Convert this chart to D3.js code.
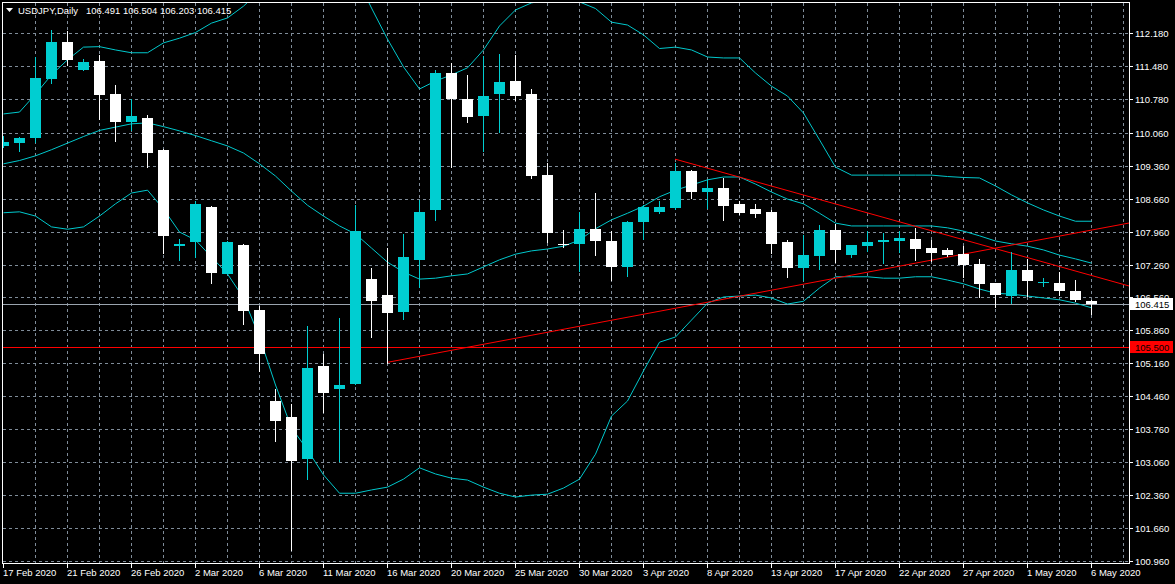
<!DOCTYPE html>
<html>
<head>
<meta charset="utf-8">
<script src="https://cdn.jsdelivr.net/npm/d3@7"></script>
<style>
html,body{margin:0;padding:0;background:#000;}
svg{display:block;}
text{font-family:"Liberation Sans",Arial,sans-serif;}
</style>
</head>
<body>
<svg id="chart" width="1175" height="584"></svg>
<script>
// ---------- DATA ----------
const symbol = "USDJPY,Daily";
const headerValues = "106.491 106.504 106.203 106.415";

const dates = ["2020-02-17","2020-02-18","2020-02-19","2020-02-20","2020-02-21","2020-02-23","2020-02-24","2020-02-25","2020-02-26","2020-02-27","2020-02-28",
"2020-03-01","2020-03-02","2020-03-03","2020-03-04","2020-03-05","2020-03-06","2020-03-08","2020-03-09","2020-03-10","2020-03-11","2020-03-12","2020-03-13",
"2020-03-15","2020-03-16","2020-03-17","2020-03-18","2020-03-19","2020-03-20","2020-03-22","2020-03-23","2020-03-24","2020-03-25","2020-03-26","2020-03-27",
"2020-03-29","2020-03-30","2020-03-31","2020-04-01","2020-04-02","2020-04-03","2020-04-05","2020-04-06","2020-04-07","2020-04-08","2020-04-09","2020-04-10",
"2020-04-12","2020-04-13","2020-04-14","2020-04-15","2020-04-16","2020-04-17","2020-04-19","2020-04-20","2020-04-21","2020-04-22","2020-04-23","2020-04-24",
"2020-04-26","2020-04-27","2020-04-28","2020-04-29","2020-04-30","2020-05-01","2020-05-03","2020-05-04","2020-05-05","2020-05-06"];

const openP  = [109.785,109.849,109.955,111.209,111.989,111.400,111.585,110.884,110.295,110.374,109.694,107.660,107.745,108.489,107.065,107.675,106.294,104.354,104.026,103.134,105.104,104.621,104.728,106.952,106.612,106.258,107.356,108.425,111.330,110.777,110.416,110.884,111.160,110.884,109.162,107.703,107.703,108.015,107.760,107.207,108.164,108.376,108.461,109.247,108.801,108.886,108.546,108.440,108.376,107.739,107.186,107.441,107.994,107.462,107.654,107.739,107.760,107.802,107.611,107.569,107.484,107.271,106.868,106.591,107.144,106.885,106.868,106.698,106.491];
const highP  = [109.991,109.976,111.676,112.244,112.223,111.628,111.713,111.075,110.777,110.437,109.715,107.796,108.610,108.510,107.760,107.703,106.379,104.615,104.296,105.954,105.359,106.130,108.525,107.180,107.605,107.909,108.631,111.394,111.536,111.288,111.691,111.734,111.713,110.990,109.411,107.994,108.370,108.774,107.972,108.185,108.525,108.610,109.411,109.269,109.056,109.099,108.610,108.546,108.419,107.781,107.887,108.100,108.121,107.680,107.972,107.930,107.972,108.036,107.781,107.611,107.654,107.378,106.875,107.526,107.378,106.974,107.101,106.931,106.504];
const lowP   = [109.768,109.679,109.870,111.124,111.494,111.395,110.346,109.891,110.119,109.339,107.511,107.356,107.420,106.861,107.060,105.990,105.004,103.516,101.187,102.709,104.120,103.085,104.720,105.726,105.161,106.096,106.776,108.213,109.339,110.295,109.672,110.083,110.756,109.105,107.732,107.626,107.122,107.462,106.931,107.016,107.809,108.361,108.440,108.674,108.455,108.206,108.334,108.270,107.505,106.995,106.931,107.165,107.314,107.426,107.548,107.293,107.526,107.356,107.335,107.441,106.995,106.570,106.357,106.442,106.591,106.804,106.612,106.485,106.203];
const closeP = [109.870,109.955,111.224,111.989,111.606,111.564,110.869,110.295,110.416,109.636,107.873,107.696,108.546,107.086,107.739,106.279,105.365,103.941,103.085,105.068,104.536,104.700,107.972,106.491,106.236,107.420,108.376,111.330,110.784,110.401,110.841,111.139,110.841,109.148,107.936,107.690,108.015,107.766,107.207,108.164,108.482,108.482,109.247,108.801,108.886,108.510,108.355,108.334,107.703,107.186,107.462,107.994,107.569,107.675,107.739,107.781,107.824,107.590,107.505,107.462,107.250,106.846,106.612,107.144,106.910,106.893,106.698,106.506,106.415];

// Bollinger bands (20)
const bbUpper = [110.46,110.50,110.88,111.29,111.61,111.88,111.89,111.82,111.76,111.76,111.97,112.07,112.19,112.39,112.50,112.75,113.07,113.58,113.86,113.73,113.80,113.75,113.41,112.71,112.05,111.46,110.99,111.16,111.29,111.44,111.82,112.33,112.67,112.82,112.88,112.88,112.84,112.70,112.41,112.35,112.14,111.85,111.88,111.82,111.67,111.65,111.65,111.33,111.05,110.84,110.48,109.91,109.33,109.16,109.16,109.16,109.16,109.16,109.16,109.13,109.11,109.10,108.93,108.74,108.57,108.42,108.29,108.18,108.18];
const bbMiddle = [109.40,109.47,109.57,109.70,109.84,109.98,110.11,110.18,110.25,110.27,110.19,110.10,110.00,109.89,109.78,109.63,109.40,109.14,108.82,108.52,108.29,108.08,107.91,107.61,107.31,107.10,106.95,106.97,107.02,107.06,107.21,107.36,107.48,107.55,107.59,107.65,107.78,108.02,108.21,108.35,108.50,108.70,108.84,108.95,109.06,109.12,109.12,108.97,108.80,108.65,108.55,108.35,108.14,108.08,108.08,108.08,108.08,108.08,108.08,108.04,107.97,107.87,107.76,107.70,107.65,107.57,107.46,107.38,107.29];
const bbLower = [108.36,108.38,108.29,108.06,108.01,108.06,108.29,108.55,108.78,108.84,108.44,107.95,107.78,107.42,107.06,106.55,105.72,104.70,103.79,103.32,102.79,102.40,102.40,102.47,102.53,102.70,102.94,102.81,102.72,102.68,102.53,102.40,102.32,102.36,102.38,102.51,102.70,103.23,104.04,104.36,105.00,105.61,105.72,106.08,106.44,106.57,106.59,106.61,106.55,106.42,106.48,106.76,107.00,107.00,107.00,106.97,106.97,107.00,107.00,106.93,106.85,106.74,106.65,106.63,106.59,106.55,106.51,106.44,106.34];

// Y axis tick labels
const yTicks = [112.180,111.480,110.780,110.060,109.360,108.660,107.960,107.260,106.560,105.860,105.160,104.460,103.760,103.060,102.360,101.660,100.960];
// X axis tick labels (bar index, label)
const xTickIdx = [0,4,8,12,16,20,24,28,32,36,40,44,48,52,56,60,64,68];
const xTickLabels = ["17 Feb 2020","21 Feb 2020","26 Feb 2020","2 Mar 2020","6 Mar 2020","11 Mar 2020","16 Mar 2020","20 Mar 2020","25 Mar 2020","30 Mar 2020","3 Apr 2020","8 Apr 2020","13 Apr 2020","17 Apr 2020","22 Apr 2020","27 Apr 2020","1 May 2020","6 May 2020"];

// Trend lines (anchor points: bar index, price) extended to the right edge
const trendDownIdx = [42, 68], trendDownPrice = [109.50, 107.03];
const trendUpIdx = [24, 68], trendUpPrice = [105.18, 107.99];
// Horizontal support level and current bid
const hLevel = 105.500;
const bidPrice = 106.415;

// ---------- LAYOUT ----------
const W = 1175, H = 584;
const L = 3, R = 1129, T = 2, B = 563;
const BULL = "#00CED1", BEAR = "#FFFFFF", BAND = "#00C8CC", GRID = "#7f8c99", RED = "#FF0000";

const svg = d3.select("#chart");
svg.append("rect").attr("width", W).attr("height", H).attr("fill", "#000");

const x = d3.scaleLinear().domain([0, 68]).range([3, 1091]);
const y = d3.scaleLinear().domain([100.96, 112.18]).range([561, 33]);
const px = v => Math.round(x(v));
const py = v => Math.round(y(v));

// clip
svg.append("defs").append("clipPath").attr("id", "plot")
  .append("rect").attr("x", L).attr("y", T + 1).attr("width", R - L).attr("height", B - T - 1);

// grid
const grid = svg.append("g").attr("stroke", GRID).attr("stroke-width", 1)
  .attr("stroke-dasharray", "3,3").attr("shape-rendering", "crispEdges");
const vgrid = d3.range(2, 72, 2).filter(i => x(i) < R);
grid.selectAll("line.v").data(vgrid).join("line")
  .attr("x1", d => px(d) + 0.5).attr("x2", d => px(d) + 0.5)
  .attr("y1", T + 1).attr("y2", B);
grid.selectAll("line.h").data(yTicks).join("line")
  .attr("x1", L).attr("x2", R)
  .attr("y1", d => py(d) + 0.5).attr("y2", d => py(d) + 0.5);

const plot = svg.append("g").attr("clip-path", "url(#plot)");

// bid line
plot.append("line").attr("x1", L).attr("x2", R)
  .attr("y1", py(bidPrice) + 0.5).attr("y2", py(bidPrice) + 0.5)
  .attr("stroke", "#9aa4ae").attr("stroke-width", 1).attr("shape-rendering", "crispEdges");

// horizontal level
plot.append("line").attr("x1", L).attr("x2", R)
  .attr("y1", py(hLevel) + 0.5).attr("y2", py(hLevel) + 0.5)
  .attr("stroke", RED).attr("stroke-width", 1.3).attr("shape-rendering", "crispEdges");

// Bollinger bands
const bandLine = d3.line().x((d, i) => px(i) + 0.5).y(d => y(d));
[bbUpper, bbMiddle, bbLower].forEach(arr => {
  plot.append("path").datum(arr).attr("d", bandLine)
    .attr("fill", "none").attr("stroke", BAND).attr("stroke-width", 1);
});

// trend lines (rays)
function ray(idx, price) {
  const slope = (price[1] - price[0]) / (idx[1] - idx[0]);
  const iEnd = x.invert(R);
  const pEnd = price[0] + slope * (iEnd - idx[0]);
  plot.append("line")
    .attr("x1", x(idx[0])).attr("y1", y(price[0]))
    .attr("x2", x(iEnd)).attr("y2", y(pEnd))
    .attr("stroke", RED).attr("stroke-width", 1);
}
ray(trendUpIdx, trendUpPrice);
ray(trendDownIdx, trendDownPrice);

// candles
const candles = openP.map((o, i) => ({i, o, h: highP[i], l: lowP[i], c: closeP[i]}));
const cg = plot.append("g").attr("shape-rendering", "crispEdges");
cg.selectAll("line.wick").data(candles).join("line")
  .attr("x1", d => px(d.i) + 0.5).attr("x2", d => px(d.i) + 0.5)
  .attr("y1", d => py(d.h)).attr("y2", d => py(d.l) + 1)
  .attr("stroke", d => d.c > d.o ? BULL : BEAR).attr("stroke-width", 1);
cg.selectAll("rect.body").data(candles).join("rect")
  .attr("x", d => px(d.i) - 5)
  .attr("width", 11)
  .attr("y", d => py(Math.max(d.o, d.c)))
  .attr("height", d => Math.max(1, py(Math.min(d.o, d.c)) - py(Math.max(d.o, d.c))))
  .attr("fill", d => d.c > d.o ? BULL : BEAR);

// border / axes
const axg = svg.append("g").attr("stroke", "#fff").attr("shape-rendering", "crispEdges");
axg.append("line").attr("x1", L - 0.5).attr("x2", R + 0.5).attr("y1", T + 0.5).attr("y2", T + 0.5);
axg.append("line").attr("x1", L - 0.5).attr("x2", L - 0.5).attr("y1", T).attr("y2", B + 1);
axg.append("line").attr("x1", R + 0.5).attr("x2", R + 0.5).attr("y1", T).attr("y2", B + 1);
axg.append("line").attr("x1", L - 1).attr("x2", R + 1).attr("y1", B + 0.5).attr("y2", B + 0.5);

// right axis
const ra = svg.append("g");
ra.selectAll("line").data(yTicks).join("line")
  .attr("x1", R).attr("x2", R + 4)
  .attr("y1", d => py(d) + 0.5).attr("y2", d => py(d) + 0.5)
  .attr("stroke", "#fff").attr("shape-rendering", "crispEdges");
ra.selectAll("text").data(yTicks).join("text")
  .attr("x", R + 6).attr("y", d => py(d) + 4)
  .attr("fill", "#fff").attr("font-size", "9.5px")
  .text(d => d3.format(".3f")(d));

// bottom axis
const ba = svg.append("g");
ba.selectAll("line").data(xTickIdx).join("line")
  .attr("x1", d => px(d) + 0.5).attr("x2", d => px(d) + 0.5)
  .attr("y1", B).attr("y2", B + 5)
  .attr("stroke", "#fff").attr("shape-rendering", "crispEdges");
ba.selectAll("text").data(xTickIdx).join("text")
  .attr("x", d => px(d)).attr("y", 576)
  .attr("fill", "#fff").attr("font-size", "9.5px")
  .text((d, k) => xTickLabels[k]);

// price labels
function priceLabel(v, bg, fg) {
  const yy = py(v);
  svg.append("rect").attr("x", R + 1).attr("y", yy - 6).attr("width", 43).attr("height", 12).attr("fill", bg);
  svg.append("text").attr("x", R + 6).attr("y", yy + 4).attr("fill", fg)
    .attr("font-size", "9.5px").text(d3.format(".3f")(v));
}
priceLabel(bidPrice, "#ffffff", "#000000");
priceLabel(hLevel, RED, "#000000");

// header
svg.append("path").attr("d", "M6,8 L13,8 L9.5,12 Z").attr("fill", "#fff");
svg.append("text").attr("x", 18).attr("y", 14).attr("fill", "#fff").attr("font-size", "9.5px").text(symbol);
svg.append("text").attr("x", 86).attr("y", 14).attr("fill", "#fff").attr("font-size", "9.5px").text(headerValues);
</script>
</body>
</html>
